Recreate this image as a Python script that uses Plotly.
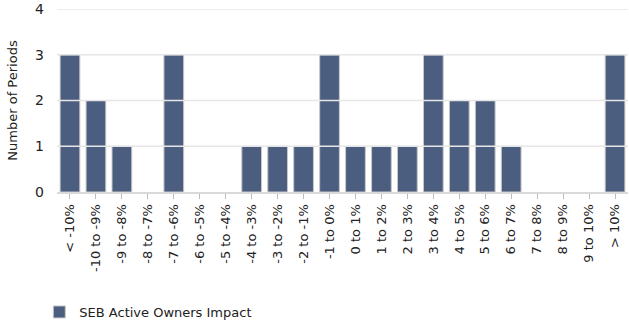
import plotly.graph_objects as go

categories = ["< -10%", "-10 to -9%", "-9 to -8%", "-8 to -7%", "-7 to -6%", "-6 to -5%",
              "-5 to -4%", "-4 to -3%", "-3 to -2%", "-2 to -1%", "-1 to 0%", "0 to 1%",
              "1 to 2%", "2 to 3%", "3 to 4%", "4 to 5%", "5 to 6%", "6 to 7%",
              "7 to 8%", "8 to 9%", "9 to 10%", "> 10%"]
periods = [3, 2, 1, 0, 3, 0, 0, 1, 1, 1, 3, 1, 1, 1, 3, 2, 2, 1, 0, 0, 0, 3]
y_ticks = [0, 1, 2, 3, 4]
series_name = "SEB Active Owners Impact"

fig = go.Figure()
fig.add_trace(go.Bar(
    x=categories, y=periods, name=series_name,
    marker=dict(color="#4b5e80",
                line=dict(color="#c8c8c8", width=[1 if v > 0 else 0 for v in periods])),
    showlegend=True,
))

for v in y_ticks[1:]:
    fig.add_shape(type="line", xref="paper", yref="y", x0=0, x1=1, y0=v, y1=v,
                  line=dict(color="#e6e6e6", width=1.5), layer="above")

fig.update_layout(
    width=629, height=324,
    margin=dict(l=57, r=1, t=9, b=132, autoexpand=False),
    paper_bgcolor="white", plot_bgcolor="white",
    font=dict(family="DejaVu Sans, Verdana, sans-serif", size=13, color="#222"),
    bargap=0.24,
    showlegend=True,
    legend=dict(orientation="h", x=-0.031, y=0.037, yref="container",
                xanchor="left", yanchor="middle",
                font=dict(size=13, color="#222"), itemwidth=30),
    xaxis=dict(type="category", tickangle=-90, ticks="outside", ticklen=5,
               tickcolor="#bbbbbb", showline=True, linecolor="#d9d9d9", linewidth=2,
               showgrid=False, tickfont=dict(size=13), automargin=False),
    yaxis=dict(range=[0, 4], tickvals=y_ticks, showgrid=False, zeroline=False,
               ticklabelstandoff=12, ticklabeloverflow="allow",
               title=dict(text="Number of Periods", font=dict(size=13), standoff=14),
               tickfont=dict(size=14), automargin=False),
)

fig.write_html("out.html")
